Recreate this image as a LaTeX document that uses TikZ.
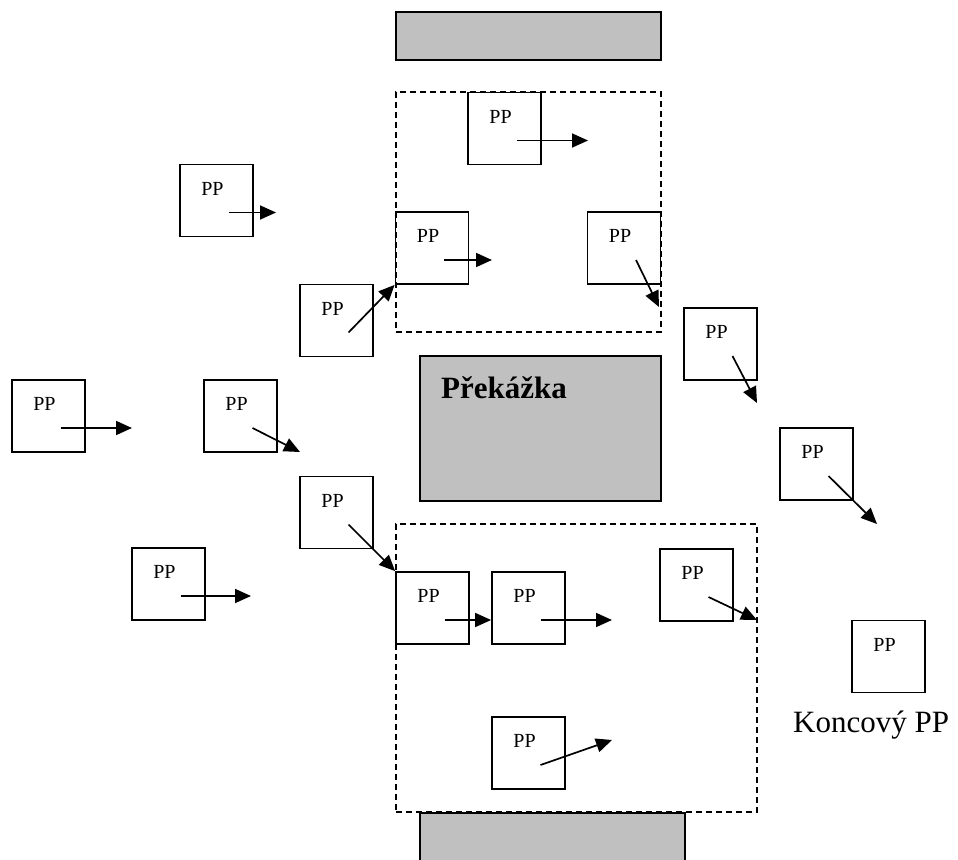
\documentclass[tikz,border=0pt]{standalone}
\usepackage{fontspec}
\setmainfont{Liberation Serif}
\usetikzlibrary{arrows.meta}
\definecolor{obst}{HTML}{C0C0C0}
\begin{document}
\begin{tikzpicture}[x=1pt,y=-1pt,
  ppbox/.style={draw,line width=1.8pt,minimum width=73pt,minimum height=72pt,inner sep=0pt},
  pptext/.style={font=\fontsize{20}{24}\selectfont,inner sep=0pt},
  obstacle/.style={draw,line width=1.8pt,fill=obst,inner sep=0pt},
  zone/.style={draw,line width=1.6pt,dash pattern=on 6pt off 4pt,inner sep=0pt},
  move/.style={line width=1.7pt,-{Triangle[length=16pt,width=14pt]}}
]
\useasboundingbox (0,0) rectangle (958,859);
\clip (0,0) rectangle (958,859);

% obstacles
\node[obstacle,minimum width=265pt,minimum height=48pt] (topobst) at (528.5,36) {};
\node[obstacle,minimum width=241pt,minimum height=145pt] (midobst) at (540.5,428.5) {};
\node[obstacle,minimum width=265pt,minimum height=60pt] (botobst) at (552.5,843) {};
\node[font=\fontsize{31}{36}\selectfont\bfseries,inner sep=0pt,anchor=base west] (midlabel) at (441,398) {Překážka};

% zones
\node[zone,minimum width=265pt,minimum height=240pt] (topzone) at (528.5,212) {};
\node[zone,minimum width=361pt,minimum height=288pt] (botzone) at (576.5,668) {};

% PP boxes
\node[ppbox] (A) at (504.5,128.5) {};
\node[ppbox] (B) at (432,248) {};
\node[ppbox] (C) at (624,248) {};
\node[ppbox] (D) at (216.5,200.5) {};
\node[ppbox] (E) at (336.5,320.5) {};
\node[ppbox] (F) at (48.5,416) {};
\node[ppbox] (G) at (240.5,416) {};
\node[ppbox] (H) at (336.5,512.5) {};
\node[ppbox] (I) at (168.5,584) {};
\node[ppbox] (J) at (432.5,608) {};
\node[ppbox] (K) at (528.5,608) {};
\node[ppbox] (L) at (696.5,585) {};
\node[ppbox] (M) at (528.5,753) {};
\node[ppbox] (N) at (720.5,344) {};
\node[ppbox] (O) at (816.5,464) {};
\node[ppbox] (P) at (888.5,656.5) {};

% PP labels
\foreach \b in {A,B,C,D,E,F,G,H,I,J,K,L,M,N,O,P}
  \node[pptext] (\b-t) at ([shift={(-4,-12)}]\b.center) {PP};

\node[font=\fontsize{31}{36}\selectfont,inner sep=0pt,anchor=base west] (endlabel) at (793,732) {Koncový PP};

% arrow start points
\foreach \b in {A,B,C,D,E,F,G,H,I,J,K,L,M,N,O}
  \coordinate (\b-s) at ([shift={(12,12)}]\b.center);

% arrow end points
\coordinate (A-e) at (588,140.5);
\coordinate (B-e) at (492,260);
\coordinate (C-e) at (659,307);
\coordinate (D-e) at (276,212.5);
\coordinate (F-e) at (132,428);
\coordinate (G-e) at (300,452);
\coordinate (I-e) at (251,596);
\coordinate (K-e) at (612,620);
\coordinate (L-e) at (757,620);
\coordinate (M-e) at (612,740);
\coordinate (N-e) at (757,403);
\coordinate (O-e) at (877,524);

% arrows
\draw[move] (A-s) -- (A-e);
\draw[move] (B-s) -- (B-e);
\draw[move] (C-s) -- (C-e);
\draw[move] (D-s) -- (D-e);
\draw[move] (E-s) -- (B.south west);
\draw[move] (F-s) -- (F-e);
\draw[move] (G-s) -- (G-e);
\draw[move] (H-s) -- (J.north west);
\draw[move] (I-s) -- (I-e);
\draw[move] (J-s) -- (K.west |- J-s);
\draw[move] (K-s) -- (K-e);
\draw[move] (L-s) -- (L-e);
\draw[move] (M-s) -- (M-e);
\draw[move] (N-s) -- (N-e);
\draw[move] (O-s) -- (O-e);
\end{tikzpicture}
\end{document}
